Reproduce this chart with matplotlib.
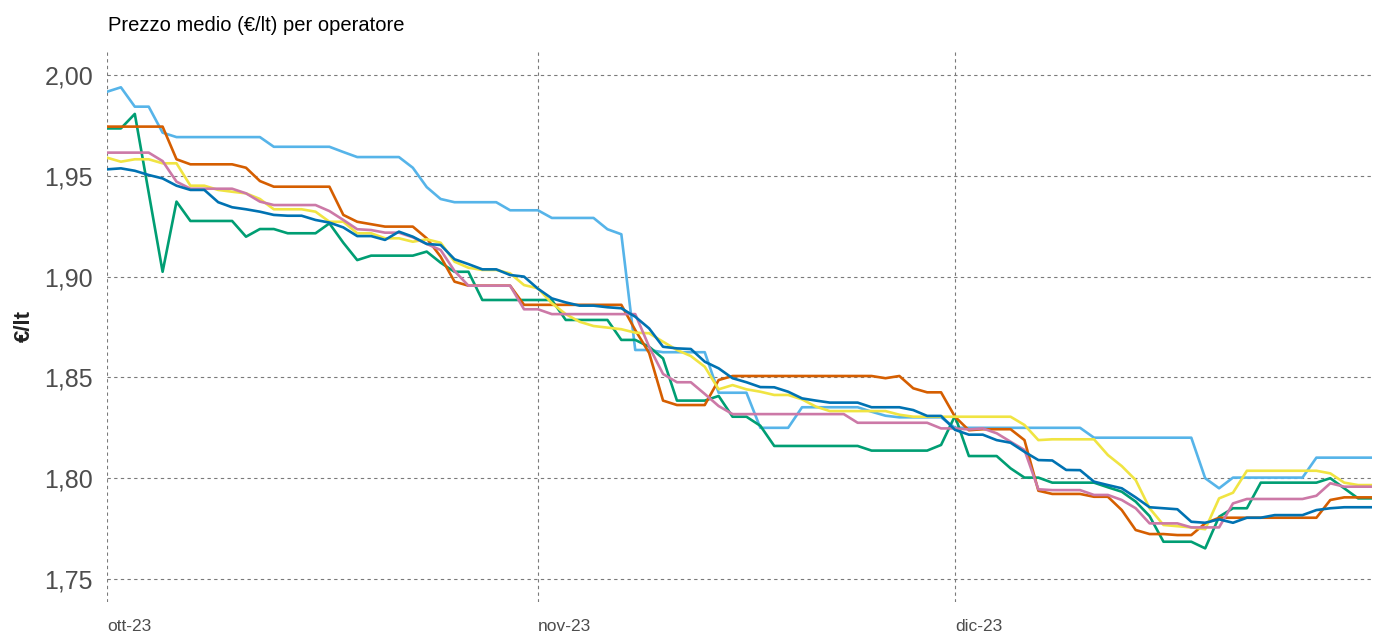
import matplotlib
matplotlib.use("Agg")
import matplotlib.pyplot as plt
import matplotlib.ticker as mticker
import numpy as np
import pandas as pd

plt.rcParams["font.family"] = ["Liberation Sans", "DejaVu Sans"]

OUT = "out.png"
TEXT_INK = "#4d4d4d"
GRID = "#7a7a7a"

START = "2023-10-01"
END = "2023-12-31"
MONTH_TICKS = ["2023-10-01", "2023-11-01", "2023-12-01"]
MONTH_LABELS = ["ott-23", "nov-23", "dic-23"]
Y_TICKS = [1.75, 1.80, 1.85, 1.90, 1.95, 2.00]

# daily average price per operator, 1 Oct - 31 Dec
op_sky = [
    1.9917, 1.9939, 1.9843, 1.9843, 1.9714, 1.9692, 1.9692, 1.9692, 1.9692, 1.9692,
    1.9692, 1.9692, 1.9644, 1.9644, 1.9644, 1.9644, 1.9644, 1.9618, 1.9593, 1.9593,
    1.9593, 1.9593, 1.9540, 1.9444, 1.9385, 1.9369, 1.9369, 1.9369, 1.9369, 1.9329,
    1.9329, 1.9329, 1.9291, 1.9291, 1.9291, 1.9291, 1.9235, 1.9210, 1.8636, 1.8636,
    1.8625, 1.8625, 1.8625, 1.8625, 1.8424, 1.8424, 1.8424, 1.8250, 1.8250, 1.8250,
    1.8352, 1.8352, 1.8352, 1.8352, 1.8352, 1.8330, 1.8310, 1.8302, 1.8302, 1.8302,
    1.8302, 1.8250, 1.8250, 1.8250, 1.8250, 1.8250, 1.8250, 1.8250, 1.8250, 1.8250,
    1.8250, 1.8201, 1.8201, 1.8201, 1.8201, 1.8201, 1.8201, 1.8201, 1.8201, 1.8000,
    1.7950, 1.8003, 1.8003, 1.8003, 1.8003, 1.8003, 1.8003, 1.8102, 1.8102, 1.8102,
    1.8102, 1.8102,
]
op_green = [
    1.9735, 1.9735, 1.9807, 1.9416, 1.9024, 1.9372, 1.9276, 1.9276, 1.9276, 1.9276,
    1.9198, 1.9236, 1.9236, 1.9215, 1.9215, 1.9215, 1.9264, 1.9168, 1.9082, 1.9104,
    1.9104, 1.9104, 1.9104, 1.9124, 1.9069, 1.9024, 1.9024, 1.8884, 1.8884, 1.8884,
    1.8884, 1.8884, 1.8884, 1.8785, 1.8785, 1.8785, 1.8785, 1.8686, 1.8686, 1.8652,
    1.8594, 1.8385, 1.8385, 1.8385, 1.8408, 1.8305, 1.8305, 1.8260, 1.8160, 1.8160,
    1.8160, 1.8160, 1.8160, 1.8160, 1.8160, 1.8137, 1.8137, 1.8137, 1.8137, 1.8137,
    1.8165, 1.8309, 1.8110, 1.8110, 1.8110, 1.8049, 1.8003, 1.8003, 1.7978, 1.7978,
    1.7978, 1.7978, 1.7955, 1.7933, 1.7884, 1.7812, 1.7685, 1.7685, 1.7685, 1.7652,
    1.7809, 1.7851, 1.7851, 1.7978, 1.7978, 1.7978, 1.7978, 1.7978, 1.8000, 1.7950,
    1.7900, 1.7900,
]
op_orange = [
    1.9744, 1.9744, 1.9744, 1.9744, 1.9744, 1.9582, 1.9557, 1.9557, 1.9557, 1.9557,
    1.9540, 1.9474, 1.9446, 1.9446, 1.9446, 1.9446, 1.9446, 1.9306, 1.9272, 1.9260,
    1.9248, 1.9248, 1.9248, 1.9190, 1.9099, 1.8975, 1.8955, 1.8955, 1.8955, 1.8955,
    1.8860, 1.8860, 1.8860, 1.8860, 1.8860, 1.8860, 1.8860, 1.8860, 1.8735, 1.8621,
    1.8385, 1.8363, 1.8363, 1.8363, 1.8487, 1.8507, 1.8507, 1.8507, 1.8507, 1.8507,
    1.8507, 1.8507, 1.8507, 1.8507, 1.8507, 1.8507, 1.8496, 1.8507, 1.8446, 1.8426,
    1.8426, 1.8305, 1.8238, 1.8243, 1.8243, 1.8243, 1.8189, 1.7938, 1.7922, 1.7922,
    1.7922, 1.7908, 1.7908, 1.7842, 1.7743, 1.7723, 1.7723, 1.7718, 1.7718, 1.7776,
    1.7804, 1.7804, 1.7804, 1.7804, 1.7804, 1.7804, 1.7804, 1.7804, 1.7892, 1.7905,
    1.7905, 1.7905,
]
op_yellow = [
    1.9590, 1.9570, 1.9582, 1.9582, 1.9562, 1.9562, 1.9451, 1.9451, 1.9430, 1.9421,
    1.9413, 1.9385, 1.9334, 1.9334, 1.9334, 1.9322, 1.9272, 1.9272, 1.9215, 1.9215,
    1.9190, 1.9190, 1.9173, 1.9185, 1.9168, 1.9074, 1.9044, 1.9033, 1.9033, 1.9016,
    1.8958, 1.8942, 1.8868, 1.8814, 1.8776, 1.8755, 1.8747, 1.8739, 1.8722, 1.8719,
    1.8677, 1.8636, 1.8606, 1.8553, 1.8441, 1.8462, 1.8441, 1.8429, 1.8413, 1.8413,
    1.8391, 1.8355, 1.8333, 1.8333, 1.8333, 1.8333, 1.8333, 1.8315, 1.8305, 1.8305,
    1.8305, 1.8305, 1.8305, 1.8305, 1.8305, 1.8305, 1.8264, 1.8189, 1.8193, 1.8193,
    1.8193, 1.8193, 1.8115, 1.8060, 1.7991, 1.7851, 1.7768, 1.7762, 1.7756, 1.7747,
    1.7900, 1.7928, 1.8037, 1.8037, 1.8037, 1.8037, 1.8037, 1.8037, 1.8024, 1.7978,
    1.7966, 1.7966,
]
op_pink = [
    1.9615, 1.9615, 1.9615, 1.9615, 1.9573, 1.9471, 1.9436, 1.9436, 1.9436, 1.9436,
    1.9413, 1.9372, 1.9355, 1.9355, 1.9355, 1.9355, 1.9325, 1.9281, 1.9235, 1.9231,
    1.9218, 1.9218, 1.9195, 1.9162, 1.9132, 1.9028, 1.8955, 1.8955, 1.8955, 1.8955,
    1.8838, 1.8838, 1.8814, 1.8814, 1.8814, 1.8814, 1.8814, 1.8814, 1.8814, 1.8652,
    1.8517, 1.8476, 1.8476, 1.8418, 1.8358, 1.8318, 1.8318, 1.8318, 1.8318, 1.8318,
    1.8318, 1.8318, 1.8318, 1.8318, 1.8275, 1.8275, 1.8275, 1.8275, 1.8275, 1.8275,
    1.8247, 1.8247, 1.8242, 1.8247, 1.8223, 1.8181, 1.8140, 1.7945, 1.7941, 1.7941,
    1.7941, 1.7917, 1.7917, 1.7892, 1.7851, 1.7776, 1.7776, 1.7776, 1.7756, 1.7756,
    1.7756, 1.7875, 1.7897, 1.7897, 1.7897, 1.7897, 1.7897, 1.7913, 1.7975, 1.7958,
    1.7958, 1.7958,
]
op_blue = [
    1.9532, 1.9537, 1.9525, 1.9504, 1.9487, 1.9451, 1.9430, 1.9430, 1.9369, 1.9344,
    1.9334, 1.9322, 1.9306, 1.9302, 1.9302, 1.9281, 1.9268, 1.9244, 1.9201, 1.9201,
    1.9182, 1.9223, 1.9198, 1.9162, 1.9157, 1.9086, 1.9062, 1.9036, 1.9036, 1.9008,
    1.9000, 1.8940, 1.8892, 1.8872, 1.8856, 1.8856, 1.8848, 1.8843, 1.8801, 1.8743,
    1.8652, 1.8644, 1.8641, 1.8578, 1.8545, 1.8496, 1.8476, 1.8452, 1.8451, 1.8429,
    1.8396, 1.8385, 1.8375, 1.8375, 1.8375, 1.8352, 1.8352, 1.8352, 1.8338, 1.8309,
    1.8309, 1.8240, 1.8216, 1.8216, 1.8189, 1.8176, 1.8131, 1.8090, 1.8088, 1.8041,
    1.8040, 1.7983, 1.7966, 1.7950, 1.7905, 1.7856, 1.7851, 1.7846, 1.7784, 1.7779,
    1.7796, 1.7779, 1.7804, 1.7804, 1.7817, 1.7817, 1.7817, 1.7842, 1.7851, 1.7856,
    1.7856, 1.7856,
]

SERIES = [
    (op_sky, "#56B4E9"),
    (op_green, "#009E73"),
    (op_orange, "#D55E00"),
    (op_yellow, "#F0E442"),
    (op_pink, "#CC79A7"),
    (op_blue, "#0072B2"),
]


def main():
    days = pd.date_range(START, END, freq="D")
    fig = plt.figure(figsize=(13.79, 6.34), dpi=100, facecolor="white")
    ax = fig.add_axes([107 / 1379, 32 / 634, 1265 / 1379, 553 / 634])

    for values, color in SERIES:
        ax.plot(days, values, color=color, linewidth=1.9, solid_joinstyle="round")

    ax.set_xlim(pd.Timestamp(START), pd.Timestamp(END))
    ax.set_ylim(1.7386, 2.0129)
    ax.set_xticks(pd.to_datetime(MONTH_TICKS))
    ax.set_xticklabels(MONTH_LABELS, ha="left", fontsize=12.5, color=TEXT_INK)
    ax.set_yticks(Y_TICKS)
    ax.yaxis.set_major_formatter(
        mticker.FuncFormatter(lambda v, _: f"{v:.2f}".replace(".", ",")))
    ax.tick_params(axis="y", labelsize=18, colors=TEXT_INK, length=0, pad=10)
    ax.tick_params(axis="x", length=0, pad=12)
    ax.grid(True, color=GRID, linewidth=0.8, linestyle=(0, (3, 3)))
    ax.set_axisbelow(True)
    for side in ax.spines.values():
        side.set_visible(False)

    ax.set_ylabel("€/lt", fontsize=16, fontweight="bold", color="#222222", labelpad=7)
    fig.text(108 / 1379, 1 - 31 / 634, "Prezzo medio (€/lt) per operatore",
             fontsize=14.5, color="black", ha="left", va="baseline")

    fig.savefig(OUT, dpi=100, facecolor="white")


if __name__ == "__main__":
    main()
